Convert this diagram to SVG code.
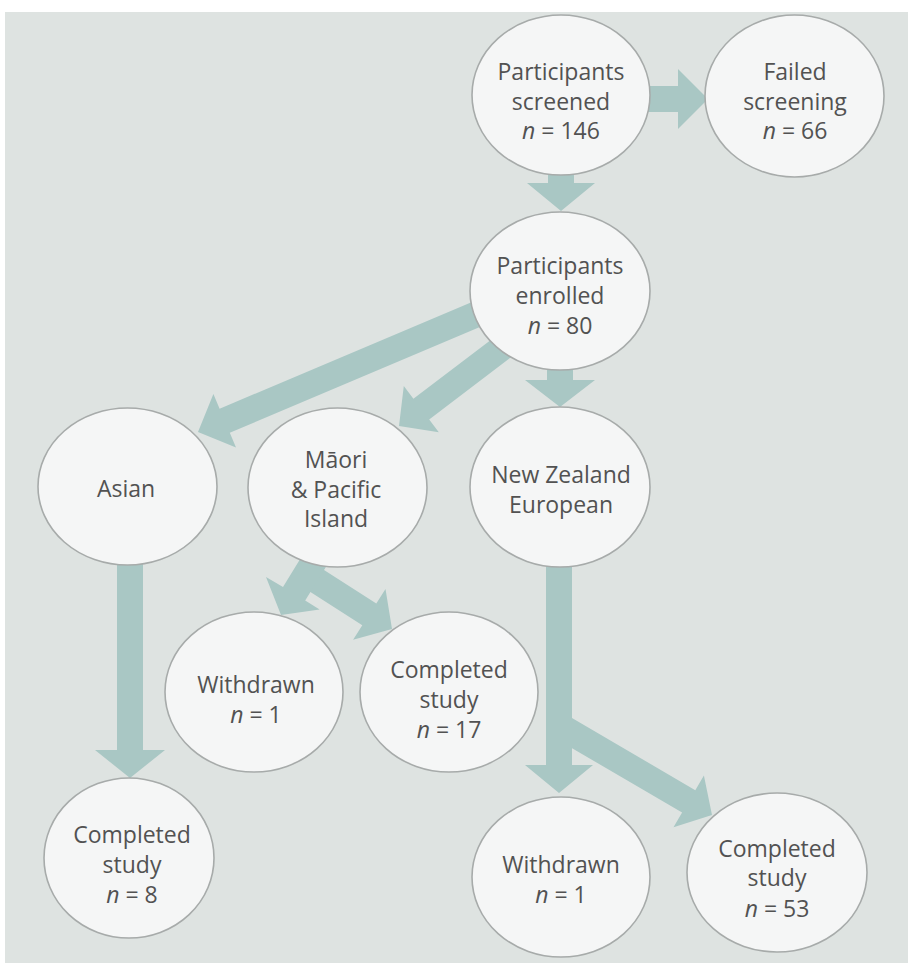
<svg xmlns="http://www.w3.org/2000/svg" width="908" height="966" viewBox="0 0 908 966">
<style>
.bg{fill:#dee3e1}
.arrow{fill:#a9c7c4}
.node ellipse{fill:#f5f6f6;stroke:#a7abaa;stroke-width:1.6}
.node text{font-family:"Open Sans","Liberation Sans",sans-serif;font-size:23px;fill:#525252;text-anchor:middle}
.i{font-style:italic}
</style>
<rect x="0" y="0" width="908" height="966" fill="#ffffff"/>
<rect class="bg" x="5" y="12" width="903" height="951"/>
<g id="connectors">
  <polygon class="arrow" points="640,86 678,86 678,69 708,99 678,129 678,112 640,112"/>
  <polygon class="arrow" points="548,165 574,165 574,183 595,183 561,211 527,183 548,183"/>
  <polygon class="arrow" points="547,360 573,360 573,380 595,380 560,407 525,380 547,380"/>
  <polygon class="arrow" points="482.1,297.8 219.6,408.7 213.4,394 198,432 236,447.4 229.8,432.7 492.3,321.8"/>
  <polygon class="arrow" points="501,332.2 413.4,398.8 403.8,386 399,426 438.8,432.2 429.2,419.4 516.8,352.8"/>
  <polygon class="arrow" points="117,555 143,555 143,750 165,750 130,778 95,750 117,750"/>
  <polygon class="arrow" points="317.4,565.7 376.3,603.5 385.5,589.1 392,629 353.1,639.7 362.3,625.3 303.4,587.5"/>
  <polygon class="arrow" points="306.6,548.6 283,586.9 266,577 281,615 319.6,609.5 305.2,600.5 328.8,562.2"/>
  <polygon class="arrow" points="562.6,712.5 695.3,790.2 703.9,775.5 712,815 673.5,827.3 682.1,812.6 549.4,734.9"/>
  <polygon class="arrow" points="546,555 572,555 572,765 593,765 559,793 525,765 546,765"/>
</g>
<g id="screened" class="node">
  <ellipse cx="561" cy="95" rx="89" ry="80"/>
  <text x="561" y="80">Participants</text>
  <text x="561" y="110">screened</text>
  <text x="561" y="139"><tspan class="i">n</tspan> = 146</text>
</g>
<g id="failed" class="node">
  <ellipse cx="794.5" cy="96" rx="89.5" ry="81"/>
  <text x="795" y="80">Failed</text>
  <text x="795" y="110">screening</text>
  <text x="795" y="139"><tspan class="i">n</tspan> = 66</text>
</g>
<g id="enrolled" class="node">
  <ellipse cx="560" cy="291" rx="90" ry="79"/>
  <text x="560" y="274">Participants</text>
  <text x="560" y="304">enrolled</text>
  <text x="560" y="334"><tspan class="i">n</tspan> = 80</text>
</g>
<g id="asian" class="node">
  <ellipse cx="127.5" cy="486.5" rx="89.5" ry="78.5"/>
  <text x="126" y="497">Asian</text>
</g>
<g id="maori" class="node">
  <ellipse cx="337.5" cy="487.5" rx="89.5" ry="79.5"/>
  <text x="336" y="468">Māori</text>
  <text x="336" y="498">&amp; Pacific</text>
  <text x="336" y="527">Island</text>
</g>
<g id="nz" class="node">
  <ellipse cx="560" cy="487" rx="90" ry="80"/>
  <text x="561" y="483">New Zealand</text>
  <text x="561" y="513">European</text>
</g>
<g id="withdrawn-mp" class="node">
  <ellipse cx="254" cy="692" rx="89" ry="80"/>
  <text x="256" y="693">Withdrawn</text>
  <text x="256" y="723"><tspan class="i">n</tspan> = 1</text>
</g>
<g id="completed-mp" class="node">
  <ellipse cx="449" cy="692" rx="89" ry="80"/>
  <text x="449" y="678">Completed</text>
  <text x="449" y="708">study</text>
  <text x="449" y="738"><tspan class="i">n</tspan> = 17</text>
</g>
<g id="completed-asian" class="node">
  <ellipse cx="129" cy="858" rx="85" ry="80"/>
  <text x="132" y="843">Completed</text>
  <text x="132" y="873">study</text>
  <text x="132" y="903"><tspan class="i">n</tspan> = 8</text>
</g>
<g id="withdrawn-nz" class="node">
  <ellipse cx="561" cy="877" rx="89" ry="80"/>
  <text x="561" y="873">Withdrawn</text>
  <text x="561" y="903"><tspan class="i">n</tspan> = 1</text>
</g>
<g id="completed-nz" class="node">
  <ellipse cx="777" cy="872.5" rx="90" ry="79.5"/>
  <text x="777" y="857">Completed</text>
  <text x="777" y="886">study</text>
  <text x="777" y="917"><tspan class="i">n</tspan> = 53</text>
</g>
</svg>
